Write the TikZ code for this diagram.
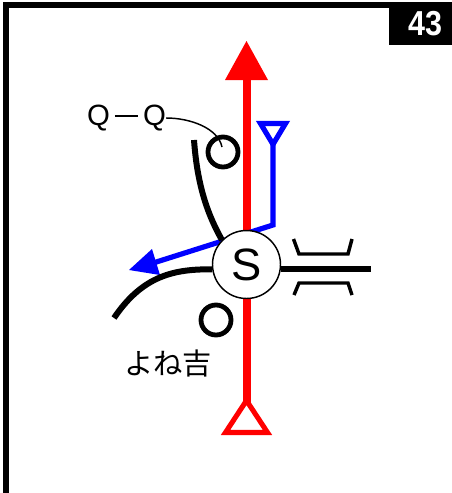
\documentclass[tikz,border=0pt]{standalone}
\usepackage{fontspec}
\setmainfont{Liberation Sans}
\newfontfamily\cjk{Noto Sans CJK JP}
\tikzstyle{frameline} = [line width=4.5pt, draw=black]
\tikzstyle{numbox} = [rectangle, fill=black, text=white, font=\bfseries\fontsize{26}{26}\selectfont, inner sep=0pt, minimum width=47.25pt, minimum height=32pt]
\tikzstyle{junction} = [circle, draw=black, fill=white, line width=1.1pt, minimum size=51pt, inner sep=0pt, font=\fontsize{34}{34}\selectfont]
\tikzstyle{ringmark} = [circle, draw=black, line width=3.6pt, minimum size=22.5pt, inner sep=0pt]
\tikzstyle{label} = [inner sep=0pt, font=\fontsize{22}{22}\selectfont]
\tikzstyle{redline} = [line width=6pt, draw=red]
\tikzstyle{blueline} = [line width=3.9pt, draw=blue]
\tikzstyle{road} = [line width=4.5pt, draw=black]
\tikzstyle{bridge} = [line width=2.6pt, draw=black]
\begin{document}
\begin{tikzpicture}[x=0.75pt, y=-0.75pt]
		\path [use as bounding box] (0,0) rectangle (452,493);
		% frame
		\coordinate (fa) at (6,493);
		\coordinate (fb) at (6,5);
		\coordinate (fc) at (452,5);
		\draw [frameline, miter limit=10] (fa) -- (fb) -- (fc);
		\node(num) [numbox] at (420.5,23.5) {\hspace*{7pt}\scalebox{.88}[1]{43}};
		% red route
		\coordinate (redbot) at (246.5,403);
		\coordinate (redtop) at (246.5,70);
		\coordinate (headtip) at (246.5,41);
		\coordinate (headl) at (225,80);
		\coordinate (headr) at (268,80);
		\coordinate (tailtop) at (246.5,400.5);
		\coordinate (taill) at (225.5,432.5);
		\coordinate (tailr) at (267.5,432.5);
		\draw [redline] (redbot) -- (redtop);
		\fill [red] (headtip) -- (headl) -- (headr) -- cycle;
		\draw [red, line width=3.8pt, miter limit=10] (tailtop) -- (taill) -- (tailr) -- cycle;
		% blue route
		\coordinate (bluebend) at (273,225);
		\coordinate (blueend) at (150,264);
		\coordinate (bluetip) at (129,270);
		\coordinate (bluel) at (152,249);
		\coordinate (bluer) at (160,275);
		\coordinate (trit) at (273,144.3);
		\coordinate (tril) at (260.5,123.5);
		\coordinate (trir) at (285.5,123.5);
		\draw [blueline] (trit) -- (bluebend) -- (blueend);
		\fill [blue] (bluetip) -- (bluel) -- (bluer) -- cycle;
		\draw [blueline, miter limit=10] (trit) -- (tril) -- (trir) -- cycle;
		% roads
		\coordinate (roadw) at (114,318);
		\coordinate (roadn) at (194,140);
		\coordinate (roade) at (371,269);
		\node(js) [junction] at (246.5,264.5) {S};
		\draw [road] (roadw) .. controls (143,275) and (175,269) .. (js.188);
		\draw [road] (roadn) .. controls (197,180) and (205,210) .. (js.135);
		\draw [road] (js.east |- roade) -- (roade);
		% bridge
		\coordinate (ua) at (293.5,239);
		\coordinate (ub) at (299,254);
		\coordinate (uc) at (348,254);
		\coordinate (ud) at (352,239);
		\coordinate (la) at (294,295);
		\coordinate (lb) at (299,283);
		\coordinate (lc) at (348,283);
		\coordinate (ld) at (352,295);
		\draw [bridge] (ua) -- (ub) -- (uc) -- (ud);
		\draw [bridge] (la) -- (lb) -- (lc) -- (ld);
		% marks
		\node(upring) [ringmark] at (223,152) {};
		\node(lowring) [ringmark] at (216,320) {};
		\node(qq) [label] at (126.5,118) {Q\,\rule[0.3em]{0.8em}{0.07em}\,Q};
		\node(yone) [label] at (168,363) {\cjk よね吉};
		\draw [line width=1.1pt] (qq.east) .. controls (190,118) and (218,128) .. (222,147);
	\end{tikzpicture}
\end{document}
